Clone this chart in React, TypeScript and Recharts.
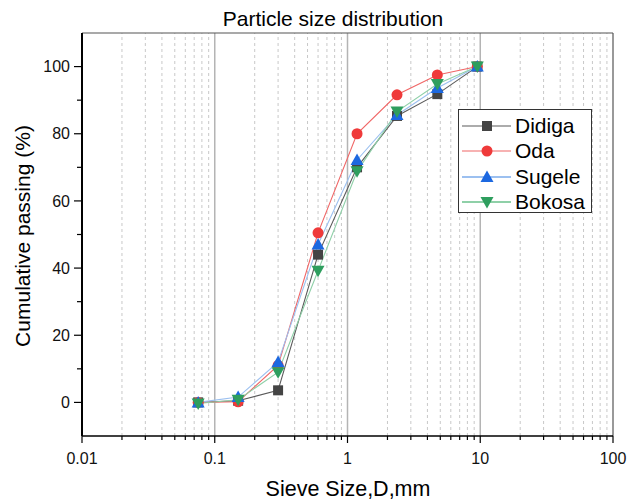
import { LineChart, Line, XAxis, YAxis, ReferenceLine, Legend } from 'recharts'

const FONT = '"Liberation Sans", Arial, sans-serif'

// sieve openings (mm) and cumulative % passing
const sieveSizes = [0.075, 0.15, 0.3, 0.6, 1.18, 2.36, 4.75, 9.5]
const didiga = [0, 0.5, 3.6, 44, 70, 85.3, 91.8, 100]
const oda = [0, 0.2, 11, 50.5, 80, 91.6, 97.5, 100]
const sugele = [0, 1.6, 12, 47, 72.2, 85.6, 93.6, 100]
const bokosa = [-0.3, 0.8, 9, 39.2, 68.8, 86.6, 94.8, 100]

const xMajorTicks = [0.01, 0.1, 1, 10, 100]
const yTicks = [0, 10, 20, 30, 40, 50, 60, 70, 80, 90, 100]

// 2..9 within each decade
const xMinorTicks: number[] = []
for (let d = 0; d < 4; d++) {
  for (let m = 2; m <= 9; m++) xMinorTicks.push(Number((m * xMajorTicks[d]).toPrecision(3)))
}
const xAllTicks = [...xMajorTicks, ...xMinorTicks].sort((a, b) => a - b)

const rows = sieveSizes.map((size, i) => ({
  size, Didiga: didiga[i], Oda: oda[i], Sugele: sugele[i], Bokosa: bokosa[i],
}))

const SERIES = [
  { key: 'Didiga', marker: 'square', fill: '#444444', line: '#5a5a5a' },
  { key: 'Oda', marker: 'circle', fill: '#ef3a3a', line: '#f06666' },
  { key: 'Sugele', marker: 'up', fill: '#1c68e0', line: '#9cc0f0' },
  { key: 'Bokosa', marker: 'down', fill: '#2e9e5e', line: '#8fd0a8' },
]

const isDecade = (v: number) => Math.abs(Math.log10(v) - Math.round(Math.log10(v))) < 1e-6

function Marker({ cx, cy, kind, fill }: { cx: number; cy: number; kind: string; fill: string }) {
  if (kind === 'square') return <rect x={cx - 5} y={cy - 5} width={10} height={10} fill={fill} />
  if (kind === 'circle') return <circle cx={cx} cy={cy} r={5.5} fill={fill} />
  if (kind === 'up') return <path d={`M${cx},${cy - 6.5} L${cx + 6.5},${cy + 5} L${cx - 6.5},${cy + 5} Z`} fill={fill} />
  return <path d={`M${cx},${cy + 6.5} L${cx + 6.5},${cy - 5} L${cx - 6.5},${cy - 5} Z`} fill={fill} />
}

// eslint-disable-next-line @typescript-eslint/no-explicit-any
const XTick = ({ x, y, payload }: any) => {
  const major = isDecade(payload.value)
  return (
    <g>
      <line x1={x} x2={x} y1={y} y2={y + (major ? 7 : 4)} stroke="#000" strokeWidth={1.2} />
      {major && (
        <text x={x} y={y + 28} textAnchor="middle" fontSize={16} fontFamily={FONT} fill="#111">
          {String(payload.value)}
        </text>
      )}
    </g>
  )
}

// eslint-disable-next-line @typescript-eslint/no-explicit-any
const YTick = ({ x, y, payload }: any) => {
  const major = payload.value % 20 === 0
  return (
    <g>
      <line x1={x} x2={x - (major ? 8 : 5)} y1={y} y2={y} stroke="#000" strokeWidth={1.2} />
      {major && (
        <text x={x - 12} y={y} dy="0.35em" textAnchor="end" fontSize={16} fontFamily={FONT} fill="#111">
          {payload.value}
        </text>
      )}
    </g>
  )
}

const LegendBox = () => (
  <div style={{ width: 134, height: 104, border: '1px solid #333', background: '#fff', boxSizing: 'border-box', padding: '3px 0 0 0' }}>
    {SERIES.map(s => (
      <div key={s.key} style={{ display: 'flex', alignItems: 'center', height: 25.5 }}>
        <svg width={56} height={24}>
          <line x1={3} x2={52} y1={12} y2={12} stroke={s.line} strokeWidth={s.marker === 'up' || s.marker === 'down' ? 2 : 1.2} />
          <Marker cx={28} cy={12} kind={s.marker} fill={s.fill} />
        </svg>
        <span style={{ fontFamily: FONT, fontSize: 21, color: '#000', lineHeight: '24px' }}>{s.key}</span>
      </div>
    ))}
  </div>
)

export default function App() {
  return (
    <div style={{ position: 'absolute', left: 0, top: 0, width: 627, height: 500, background: '#fff' }}>
      <LineChart width={627} height={500} data={rows} margin={{ top: 33, right: 14, bottom: 0, left: 0 }}>
        {xMinorTicks.map(v => (
          <ReferenceLine key={`mn-${v}`} x={v} stroke="#c8c8c8" strokeDasharray="3 3" strokeWidth={1} />
        ))}
        {[0.1, 1, 10].map(v => (
          <ReferenceLine key={`mj-${v}`} x={v} stroke="#b4b4b4" strokeWidth={1.5} />
        ))}
        <ReferenceLine y={110} stroke="#555" strokeWidth={1.2} />
        <ReferenceLine x={100} stroke="#555" strokeWidth={1.2} />
        <XAxis
          dataKey="size" type="number" scale="log" domain={[0.01, 100]} allowDataOverflow
          ticks={xAllTicks} interval={0} tick={<XTick />} tickLine={false} tickSize={0} tickMargin={0}
          axisLine={{ stroke: '#000', strokeWidth: 1.5 }} height={64}
        />
        <YAxis
          type="number" domain={[-10, 110]} ticks={yTicks} interval={0} tick={<YTick />}
          tickLine={false} tickSize={0} tickMargin={0} axisLine={{ stroke: '#000', strokeWidth: 2 }} width={82}
        />
        <Legend
          layout="vertical" align="center" verticalAlign="middle"
          wrapperStyle={{ left: 458, top: 109, width: 'auto', height: 'auto' }}
          content={<LegendBox />}
        />
        {SERIES.map(s => (
          <Line
            key={s.key} type="linear" dataKey={s.key} stroke={s.line} strokeWidth={1.1}
            isAnimationActive={false}
            // eslint-disable-next-line @typescript-eslint/no-explicit-any
            dot={(p: any) => <Marker key={`${s.key}-${p.index}`} cx={p.cx} cy={p.cy} kind={s.marker} fill={s.fill} />}
          />
        ))}
      </LineChart>
      <svg width={627} height={500} style={{ position: 'absolute', left: 0, top: 0, pointerEvents: 'none' }}>
        <text x={333} y={26} textAnchor="middle" fontSize={21} fontFamily={FONT} fill="#000">Particle size distribution</text>
        <text x={348} y={496} textAnchor="middle" fontSize={21.5} fontFamily={FONT} fill="#000">Sieve Size,D,mm</text>
        <text transform="translate(30,236) rotate(-90)" textAnchor="middle" fontSize={21} fontFamily={FONT} fill="#000">Cumulative passing (%)</text>
      </svg>
    </div>
  )
}
